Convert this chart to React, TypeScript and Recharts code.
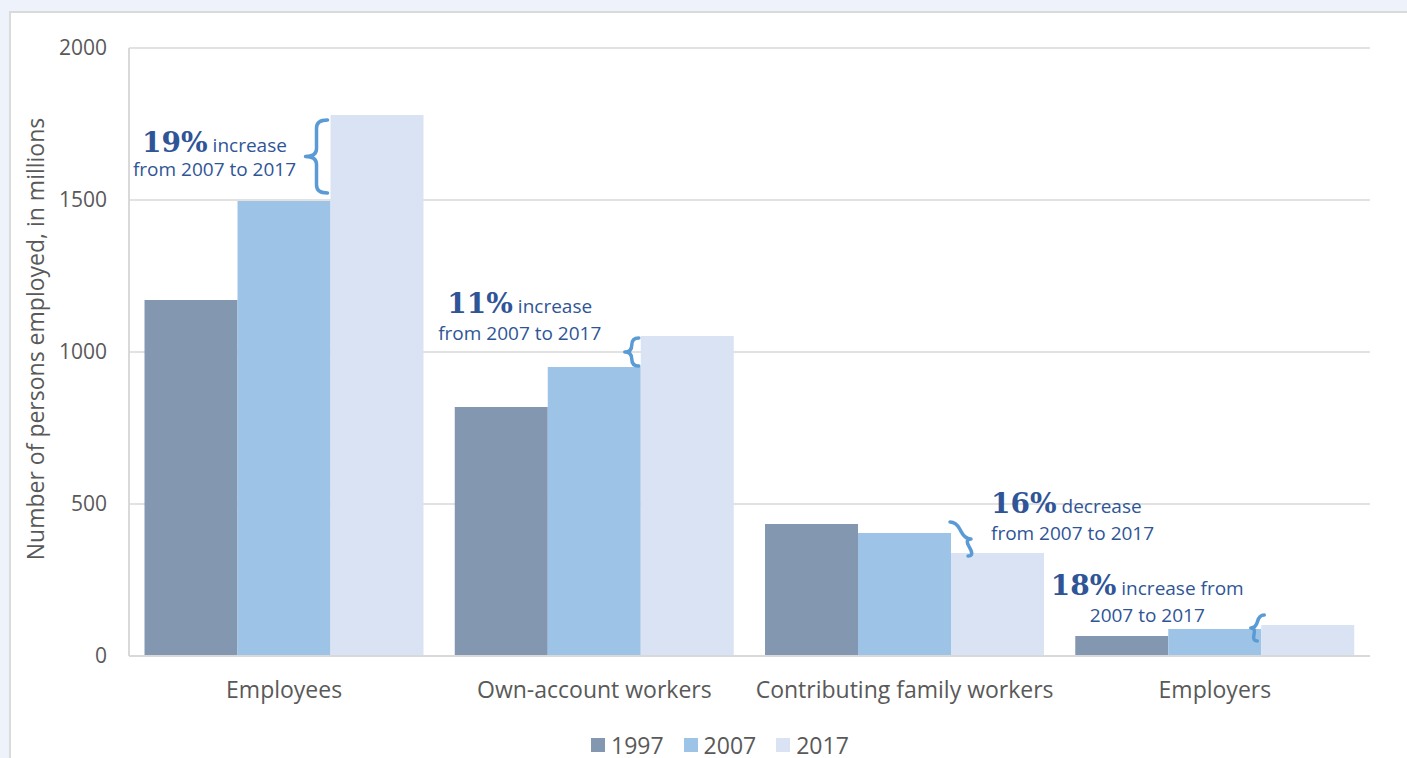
import React from 'react';
import {
  BarChart,
  Bar,
  XAxis,
  YAxis,
  CartesianGrid,
  LabelList,
} from 'recharts';

// data (persons employed, millions)
const categories = ['Employees', 'Own-account workers', 'Contributing family workers', 'Employers'];
const values1997 = [1171, 819, 434, 66];
const values2007 = [1497, 951, 405, 89];
const values2017 = [1780, 1053, 339, 102];
const yTicks = [0, 500, 1000, 1500, 2000];
const changePct = ['19%', '11%', '16%', '18%'];
const changeLine1 = [' increase', ' increase', ' decrease', ' increase from'];
const changeLine2 = ['from 2007 to 2017', 'from 2007 to 2017', 'from 2007 to 2017', '2007 to 2017'];

const COLORS = {
  y1997: '#8497B0',
  y2007: '#9DC3E6',
  y2017: '#DAE3F3',
  grid: '#D9D9D9',
  axisText: '#595959',
  note: '#2F5597',
  brace: '#5B9BD5',
};

// layout of the annotations, relative to the 2007/2017 bar boundary
const noteLayout = [
  { anchor: 'middle', dx: -116, dy1: 37, dy2: 61, top: [-3, 5, 'y17'], bot: [-3, -8, 'y07'], tip: -22 },
  { anchor: 'middle', dx: -121, dy1: -23, dy2: 4, top: [-2, 2, 'y17'], bot: [-2, -1, 'y07'], tip: -14 },
  { anchor: 'start', dx: 40, dy1: -40, dy2: -13, top: [-1, -11, 'y07'], bot: [17, 3, 'y17'], tip: 12 },
  { anchor: 'middle', dx: -114, dy1: -30, dy2: -3, top: [3, -10, 'y17'], bot: [-4, 12, 'y07'], tip: -10 },
];

const chartData = categories.map((name, i) => ({
  name,
  v1997: values1997[i],
  v2007: values2007[i],
  v2017: values2017[i],
}));

const bracePath = (x0: number, y0: number, x1: number, y1: number, t: number) => {
  const len = Math.hypot(x1 - x0, y1 - y0);
  const rf = Math.min(8, len / 4) / len;
  const h = t / 2;
  const lx = (f: number) => x0 + (x1 - x0) * f;
  const ly = (f: number) => y0 + (y1 - y0) * f;
  return [
    `M${lx(0)},${ly(0)}`,
    `Q${lx(0) + h},${ly(0)} ${lx(rf) + h},${ly(rf)}`,
    `L${lx(0.5 - rf) + h},${ly(0.5 - rf)}`,
    `Q${lx(0.5) + h},${ly(0.5)} ${lx(0.5) + t},${ly(0.5)}`,
    `Q${lx(0.5) + h},${ly(0.5)} ${lx(0.5 + rf) + h},${ly(0.5 + rf)}`,
    `L${lx(1 - rf) + h},${ly(1 - rf)}`,
    `Q${lx(1) + h},${ly(1)} ${lx(1)},${ly(1)}`,
  ].join(' ');
};

// drawn as a label of the 2017 bars so it sits on top of every bar
const renderNote = (props: any) => {
  const vb = props.viewBox || props;
  let index = props.index;
  if (index === undefined) index = values2017.indexOf(Number(props.value));
  if (index < 0 || index === undefined) return null;
  const bx = Number(vb.x);
  const y17 = Number(vb.y);
  const h = Number(vb.height);
  const y07 = y17 + h - (h * values2007[index]) / values2017[index];
  const lay = noteLayout[index];
  const ref = (k: string) => (k === 'y17' ? y17 : y07);
  const tx = bx + lay.dx;
  return (
    <g key={`note-${index}`}>
      <path
        d={bracePath(
          bx + (lay.top[0] as number),
          ref(lay.top[2] as string) + (lay.top[1] as number),
          bx + (lay.bot[0] as number),
          ref(lay.bot[2] as string) + (lay.bot[1] as number),
          lay.tip
        )}
        fill="none"
        stroke={COLORS.brace}
        strokeWidth={3.5}
        strokeLinecap="round"
        strokeLinejoin="round"
      />
      <text x={tx} y={y17 + lay.dy1} textAnchor={lay.anchor as any} fill={COLORS.note}>
        <tspan style={{ fontFamily: '"DejaVu Serif", serif', fontWeight: 700, fontSize: 28 }}>
          {changePct[index]}
        </tspan>
        <tspan style={{ fontFamily: '"Open Sans", sans-serif', fontSize: 19 }}>{changeLine1[index]}</tspan>
      </text>
      <text
        x={tx}
        y={y17 + lay.dy2}
        textAnchor={lay.anchor as any}
        fill={COLORS.note}
        style={{ fontFamily: '"Open Sans", sans-serif', fontSize: 19 }}
      >
        {changeLine2[index]}
      </text>
    </g>
  );
};

const legendItems = [
  { label: '1997', color: COLORS.y1997 },
  { label: '2007', color: COLORS.y2007 },
  { label: '2017', color: COLORS.y2017 },
];

const ChartLegend: React.FC = () => (
  <div
    style={{
      position: 'absolute',
      left: 591,
      top: 734,
      display: 'flex',
      alignItems: 'center',
      fontFamily: '"Open Sans", sans-serif',
    }}
  >
    {legendItems.map((item) => (
      <div key={item.label} style={{ display: 'flex', alignItems: 'center', marginRight: 20, height: 22 }}>
        <span style={{ width: 14, height: 14, background: item.color, display: 'inline-block', marginRight: 6 }} />
        <span style={{ fontSize: 23, color: COLORS.axisText, lineHeight: '22px' }}>{item.label}</span>
      </div>
    ))}
  </div>
);

const App: React.FC = () => {
  return (
    <div
      style={{
        position: 'absolute',
        left: 0,
        top: 0,
        width: 1407,
        height: 758,
        background: '#EEF3FB',
        overflow: 'hidden',
      }}
    >
      <div
        style={{
          position: 'absolute',
          left: 9,
          top: 11,
          width: 1440,
          height: 800,
          background: '#FFFFFF',
          border: '2px solid #DADADA',
        }}
      />
      <div style={{ position: 'absolute', left: 0, top: 0 }}>
        <BarChart
          width={1407}
          height={758}
          data={chartData}
          margin={{ top: 48, right: 37, bottom: 72, left: 0 }}
          barCategoryGap="5%"
          barGap={0}
          style={{ fontFamily: '"Open Sans", sans-serif' }}
        >
          <CartesianGrid vertical={false} stroke={COLORS.grid} strokeWidth={1.5} yAxisId="left" />
          <XAxis
            dataKey="name"
            height={30}
            tickLine={false}
            tickSize={0}
            tickMargin={26}
            axisLine={{ stroke: COLORS.grid, strokeWidth: 2 }}
            tick={{ fill: COLORS.axisText, fontSize: 23 }}
            interval={0}
          />
          <YAxis
            yAxisId="left"
            domain={[0, 2000]}
            ticks={yTicks}
            width={129}
            tickLine={false}
            tickSize={0}
            tickMargin={22}
            axisLine={{ stroke: COLORS.grid, strokeWidth: 2 }}
            tick={{ fill: COLORS.axisText, fontSize: 21 }}
            label={{
              content: (p: any) => {
                const vb = p.viewBox || {};
                const cx = 35;
                const cy = (vb.y || 48) + (vb.height || 608) / 2 - 13;
                return (
                  <text
                    x={cx}
                    y={cy}
                    transform={`rotate(-90 ${cx} ${cy})`}
                    textAnchor="middle"
                    dominantBaseline="central"
                    fill={COLORS.axisText}
                    style={{ fontSize: 23, fontFamily: '"Open Sans", sans-serif' }}
                  >
                    Number of persons employed, in millions
                  </text>
                );
              },
            }}
          />
          <YAxis
            yAxisId="right"
            orientation="right"
            width={0}
            domain={[0, 2000]}
            tick={false}
            tickLine={false}
            axisLine={{ stroke: COLORS.grid, strokeWidth: 2 }}
          />
          <Bar yAxisId="left" dataKey="v1997" name="1997" fill={COLORS.y1997} isAnimationActive={false} />
          <Bar yAxisId="left" dataKey="v2007" name="2007" fill={COLORS.y2007} isAnimationActive={false} />
          <Bar yAxisId="left" dataKey="v2017" name="2017" fill={COLORS.y2017} isAnimationActive={false}>
            <LabelList dataKey="v2017" content={renderNote} />
          </Bar>
        </BarChart>
      </div>
      <ChartLegend />
    </div>
  );
};

export default App;
